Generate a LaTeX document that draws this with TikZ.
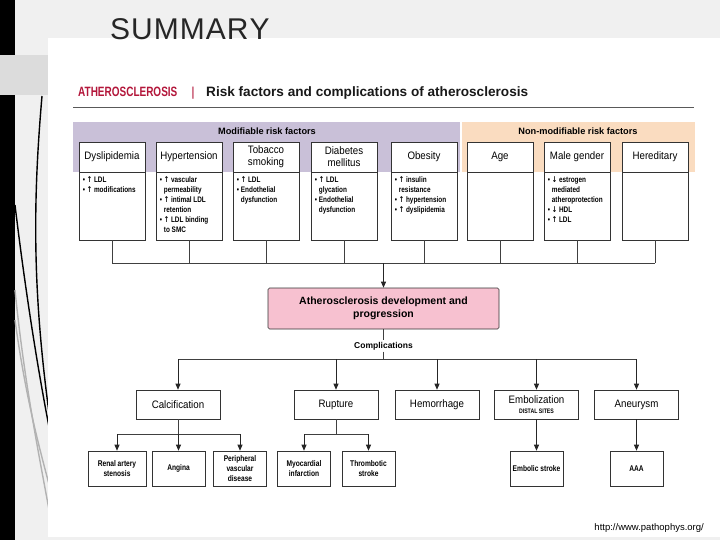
\documentclass[tikz,border=0pt]{standalone}
\usepackage{fontspec}
\setmainfont{Liberation Sans}
\newfontfamily\narrowf[FakeStretch=0.9]{Liberation Sans}
\newfontfamily\condf[FakeStretch=0.8]{Liberation Sans}
\newfontfamily\titlef[FakeStretch=0.74]{Liberation Sans}
\newfontfamily\arrowf[FakeStretch=0.8]{DejaVu Sans}
\usetikzlibrary{arrows.meta,calc}
\definecolor{bggray}{HTML}{F0F0F0}
\definecolor{blockgray}{HTML}{DCDCDC}
\definecolor{bandpurple}{HTML}{C9C0D8}
\definecolor{bandpeach}{HTML}{FADCC0}
\definecolor{devpink}{HTML}{F7C1D0}
\definecolor{titlered}{HTML}{B3163A}
\newcommand\bl{\textbullet\ }
\newcommand\ind{\phantom{\textbullet\ }}
\newcommand\upa{{\arrowf ↑}}
\newcommand\dna{{\arrowf ↓}}
\tikzset{
  hbox/.style={draw=black!80, line width=0.6pt, fill=white, minimum width=66pt, minimum height=30pt, inner sep=1pt, align=center, font=\narrowf\fontsize{10.8}{12}\selectfont},
  cbox/.style={draw=black!80, line width=0.6pt, fill=white, minimum width=66pt, minimum height=68pt, inner sep=0pt},
  ctext/.style={anchor=north west, inner sep=0pt, align=left, font=\condf\bfseries\fontsize{8}{9.9}\selectfont},
  kbox/.style={draw=black!80, line width=0.6pt, fill=white, minimum width=84pt, minimum height=29pt, inner sep=1pt, align=center, font=\narrowf\fontsize{10.8}{10.5}\selectfont},
  rbox/.style={draw=black!80, line width=0.6pt, fill=white, minimum width=53pt, minimum height=35pt, inner sep=1pt, align=center, font=\condf\bfseries\fontsize{8.3}{10}\selectfont},
  conn/.style={draw=black!75, line width=0.8pt},
  arr/.style={draw=black!85, line width=0.8pt, -{Triangle[length=6pt,width=5pt]}},
  deco/.style={line width=1.4pt},
}
\begin{document}
\begin{tikzpicture}[x=1pt,y=-1pt]
\useasboundingbox (0,0) rectangle (720,540);
% background
\fill[bggray] (0,0) rectangle (720,540);
\fill[black] (0,0) rectangle (15,540);
\fill[blockgray] (0,55) rectangle (48,95);
% decorative curves
\draw[deco, black] (42,96) .. controls (33,200) and (32,290) .. (50,420);
\draw[deco, black] (15,205) .. controls (24,280) and (36,360) .. (50,432);
\draw[deco, black!30] (15,290) .. controls (24,380) and (38,450) .. (50,515);
\draw[deco, black!30] (15,320) .. controls (26,400) and (40,450) .. (50,488);
% white panel
\fill[white] (48,38) rectangle (720,537);
% slide title
\node[anchor=base west, inner sep=0pt, font=\fontsize{30}{32}\selectfont, text=black!85] (summary) at (110,40) {S\kern1ptU\kern1ptM\kern1ptM\kern1ptA\kern1ptR\kern1ptY};
% header
\node[anchor=base west, inner sep=0pt, font=\titlef\bfseries\fontsize{13.5}{14}\selectfont, text=titlered] (ath) at (78,97) {ATHEROSCLEROSIS};
\node[anchor=base, inner sep=0pt, font=\fontsize{13}{14}\selectfont, text=titlered] (bar) at (193,97) {|};
\node[anchor=base west, inner sep=0pt, font=\bfseries\fontsize{13.6}{14}\selectfont, text=black!90] (risk) at (206,97) {Risk factors and complications of atherosclerosis};
\draw[black!65, line width=0.8pt] (73,107) -- (694,107);
% bands
\fill[bandpurple] (73,122) rectangle (460,172);
\fill[bandpeach] (462,122) rectangle (695,172);
\node[font=\bfseries\fontsize{9.2}{10}\selectfont, inner sep=0pt] (modl) at (267,131) {Modifiable risk factors};
\node[font=\bfseries\fontsize{9.2}{10}\selectfont, inner sep=0pt] (nonl) at (578,131) {Non-modifiable risk factors};
% risk factor boxes
\node[hbox] (h1) at (112,157) {Dyslipidemia};
\node[hbox] (h2) at (189,157) {Hypertension};
\node[hbox] (h3) at (266,157) {Tobacco\\smoking};
\node[hbox] (h4) at (344,157) {Diabetes\\mellitus};
\node[hbox] (h5) at (424,157) {Obesity};
\node[hbox] (h6) at (500,157) {Age};
\node[hbox] (h7) at (577,157) {Male gender};
\node[hbox] (h8) at (655,157) {Hereditary};
\foreach \i/\x in {1/112,2/189,3/266,4/344,5/424,6/500,7/577,8/655}{
  \node[cbox] (c\i) at (\x,206) {};
}
\node[ctext] (t1) at ($(c1.north west)+(4,5)$) {\bl\upa\ LDL\\\bl\upa\ modifications};
\node[ctext] (t2) at ($(c2.north west)+(4,5)$) {\bl\upa\ vascular\\\ind permeability\\\bl\upa\ intimal LDL\\\ind retention\\\bl\upa\ LDL binding\\\ind to SMC};
\node[ctext] (t3) at ($(c3.north west)+(4,5)$) {\bl\upa\ LDL\\\bl Endothelial\\\ind dysfunction};
\node[ctext] (t4) at ($(c4.north west)+(4,5)$) {\bl\upa\ LDL\\\ind glycation\\\bl Endothelial\\\ind dysfunction};
\node[ctext] (t5) at ($(c5.north west)+(4,5)$) {\bl\upa\ insulin\\\ind resistance\\\bl\upa\ hypertension\\\bl\upa\ dyslipidemia};
\node[ctext] (t7) at ($(c7.north west)+(4,5)$) {\bl\dna\ estrogen\\\ind mediated\\\ind atheroprotection\\\bl\dna\ HDL\\\bl\upa\ LDL};
% collecting bus
\foreach \i/\x in {1/112,2/189,3/266,4/344,5/424,6/500,7/577,8/655}{
  \coordinate (b\i) at (\x,263);
  \draw[conn] (c\i.south) -- (b\i);
}
\draw[conn] (b1) -- (b8);
\coordinate (bm) at (383.5,263);
% development box
\node[draw=black!80, line width=0.6pt, fill=devpink, rounded corners=1.5pt, minimum width=231pt, minimum height=41pt, align=center, inner sep=1pt, font=\bfseries\fontsize{10.5}{13}\selectfont] (dev) at (383.5,308.5) {Atherosclerosis development and\\progression};
\draw[arr] (bm) -- (dev.north);
\node[font=\bfseries\fontsize{8.5}{9}\selectfont, inner sep=1.5pt] (comp) at (383.5,346) {Complications};
\draw[conn] (dev.south) -- (comp.north);
\coordinate (cb) at (383.5,359);
\draw[conn] (comp.south) -- (cb);
% complication boxes
\node[kbox] (k1) at (178,404.5) {Calcification};
\node[kbox] (k2) at (336,404.5) {Rupture};
\node[kbox] (k3) at (437,404.5) {Hemorrhage};
\node[kbox] (k4) at (536.5,404.5) {Embolization\\[-1pt]{\condf\bfseries\fontsize{6.5}{7}\selectfont DISTAL SITES}};
\node[kbox] (k5) at (636.5,404.5) {Aneurysm};
\coordinate (cl) at (178,359);
\coordinate (cr) at (636.5,359);
\draw[conn] (cl) -- (cr);
\draw[arr] (cl) -- (k1.north);
\draw[arr] (k2.north |- cb) -- (k2.north);
\draw[arr] (k3.north |- cb) -- (k3.north);
\draw[arr] (k4.north |- cb) -- (k4.north);
\draw[arr] (cr) -- (k5.north);
% result boxes
\node[rbox, minimum width=58pt] (r1) at (117,468.5) {Renal artery\\stenosis};
\node[rbox] (r2) at (178.5,468.5) {Angina};
\node[rbox] (r3) at (240,468.5) {Peripheral\\vascular\\disease};
\node[rbox] (r4) at (304,468.5) {Myocardial\\infarction};
\node[rbox] (r5) at (368.5,468.5) {Thrombotic\\stroke};
\node[rbox] (r6) at (536.5,468.5) {Embolic stroke};
\node[rbox] (r7) at (636.5,468.5) {AAA};
\coordinate (kb1) at (178,434);
\coordinate (kbl) at (117,434);
\coordinate (kbr) at (240,434);
\draw[conn] (k1.south) -- (kb1);
\draw[conn] (kbl) -- (kbr);
\draw[arr] (kbl) -- (r1.north);
\draw[arr] (r2.north |- kb1) -- (r2.north);
\draw[arr] (kbr) -- (r3.north);
\coordinate (kb2) at (336,434);
\coordinate (kb2l) at (304,434);
\coordinate (kb2r) at (368.5,434);
\draw[conn] (k2.south) -- (kb2);
\draw[conn] (kb2l) -- (kb2r);
\draw[arr] (kb2l) -- (r4.north);
\draw[arr] (kb2r) -- (r5.north);
\draw[arr] (k4.south) -- (r6.north);
\draw[arr] (k5.south) -- (r7.north);
% source
\node[anchor=base east, inner sep=0pt, font=\fontsize{9.5}{10}\selectfont] (url) at (704,530) {http://www.pathophys.org/};
\end{tikzpicture}
\end{document}
